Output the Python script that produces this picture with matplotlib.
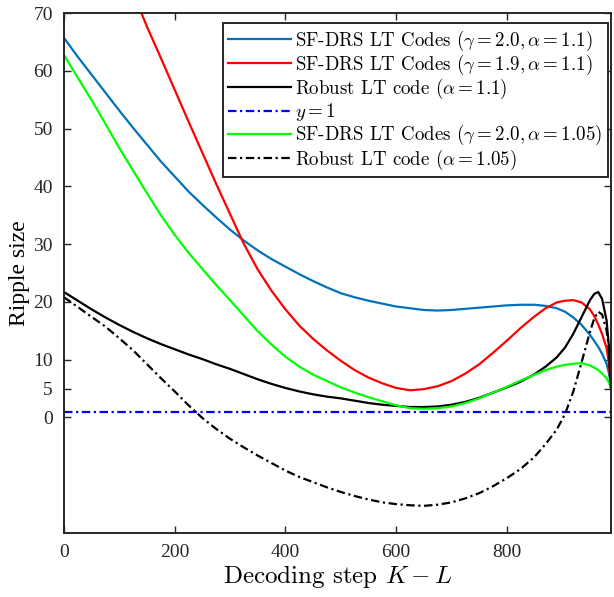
import numpy as np
import matplotlib
matplotlib.use("Agg")
import matplotlib.pyplot as plt

# Ripple size vs decoding step
steps = [0, 25, 50, 75, 100, 125, 150, 175, 200, 225, 250, 275, 300, 325, 350, 375,
         400, 425, 450, 475, 500, 525, 550, 575, 600, 625, 650, 675, 700, 725, 750,
         775, 800, 825, 850, 870, 890, 905, 920, 935, 950, 958, 965, 972, 980, 984, 988]

sf_g20_a11 = [65.7, 62.4, 59.3, 56.2, 53.1, 50.1, 47.2, 44.3, 41.7, 39.1, 36.8, 34.6, 32.5, 30.6,
              28.9, 27.4, 26.1, 24.8, 23.6, 22.5, 21.5, 20.8, 20.2, 19.7, 19.2, 18.9, 18.6, 18.5,
              18.6, 18.8, 19.0, 19.2, 19.4, 19.5, 19.5, 19.3, 18.9, 18.3, 17.3, 16.0, 14.3, 13.2,
              12.2, 11.0, 9.3, 7.8, 5.5]
sf_g19_a11 = [111.0, 102.5, 94.5, 87.0, 80.0, 73.5, 67.6, 62.2, 56.7, 51.2, 45.8, 40.4, 35.2, 30.0,
              25.6, 21.9, 18.7, 15.9, 13.6, 11.6, 9.8, 8.2, 6.9, 5.9, 5.1, 4.7, 4.9, 5.4,
              6.3, 7.6, 9.2, 11.2, 13.3, 15.5, 17.5, 18.9, 19.9, 20.2, 20.3, 19.9, 18.7, 17.5,
              16.1, 14.4, 12.0, 9.5, 5.0]
robust_a11 = [21.7, 20.2, 18.7, 17.3, 16.0, 14.8, 13.7, 12.7, 11.8, 10.9, 10.1, 9.2, 8.4, 7.5,
              6.6, 5.8, 5.1, 4.5, 4.0, 3.6, 3.3, 2.9, 2.5, 2.2, 2.0, 1.8, 1.8, 1.9,
              2.2, 2.7, 3.4, 4.3, 5.2, 6.2, 7.5, 8.8, 10.4, 12.1, 14.5, 17.4, 20.3, 21.4,
              21.7, 20.5, 16.8, 12.5, 5.0]
sf_g20_a105 = [62.7, 58.8, 54.9, 50.8, 46.6, 42.7, 38.8, 35.0, 31.6, 28.5, 25.7, 22.9, 20.3, 17.6,
               14.9, 12.6, 10.5, 8.8, 7.4, 6.3, 5.2, 4.3, 3.5, 2.8, 2.1, 1.6, 1.5, 1.6,
               1.9, 2.5, 3.3, 4.3, 5.3, 6.4, 7.4, 8.2, 8.8, 9.1, 9.3, 9.4, 9.0, 8.6,
               8.2, 7.6, 6.8, 6.1, 5.0]
robust_a105 = [20.8, 19.1, 17.4, 15.7, 13.7, 11.6, 9.2, 6.8, 4.5, 2.1, -0.1, -2.0, -3.7, -5.2,
               -6.6, -7.9, -9.2, -10.3, -11.2, -12.1, -12.9, -13.6, -14.2, -14.7, -15.0, -15.2, -15.3, -15.1,
               -14.7, -14.0, -13.1, -11.9, -10.5, -8.9, -6.8, -4.6, -2.1, 0.6, 4.5, 9.6, 14.8, 17.2,
               18.3, 17.8, 15.1, 12.0, 5.0]

plt.rcParams['font.family'] = 'Liberation Serif'
plt.rcParams['mathtext.fontset'] = 'cm'
plt.rcParams['axes.unicode_minus'] = False

fig = plt.figure(figsize=(6.14, 5.97), dpi=100)
ax = fig.add_axes([64/614, 1-533/597, 547/614, 520/597])

lw = 1.6
dashdot = (0, (3.8, 1.6, 1, 1.6))
ax.plot(steps, sf_g20_a11, color='#0072BD', lw=lw,
        label=r'SF-DRS LT Codes $(\gamma = 2.0, \alpha = 1.1)$')
ax.plot(steps, sf_g19_a11, color='#FF0000', lw=lw,
        label=r'SF-DRS LT Codes $(\gamma = 1.9, \alpha = 1.1)$')
ax.plot(steps, robust_a11, color='black', lw=lw,
        label=r'Robust LT code $(\alpha = 1.1)$')
ax.axhline(1, color='#0000FF', lw=lw, ls=dashdot, label=r'$y = 1$')
ax.plot(steps, sf_g20_a105, color='#00FF00', lw=lw,
        label=r'SF-DRS LT Codes $(\gamma = 2.0, \alpha = 1.05)$')
ax.plot(steps, robust_a105, color='black', lw=lw, ls=dashdot,
        label=r'Robust LT code $(\alpha = 1.05)$')

ax.set_xlim(0, 988)
ax.set_ylim(-20, 70)
ax.set_xticks([0, 200, 400, 600, 800])
ax.set_yticks([0, 5, 10, 20, 30, 40, 50, 60, 70])
ax.tick_params(direction='in', top=True, right=True, length=5, width=1,
               labelsize=14, pad=8, colors='#262626')
for s in ax.spines.values():
    s.set_linewidth(1.4)
    s.set_color('#262626')

ax.set_xlabel(r'Decoding step $K - L$', fontsize=18, family='cmr10', labelpad=1)
ax.set_ylabel('Ripple size', fontsize=17, labelpad=2)

leg = ax.legend(loc='upper right', bbox_to_anchor=(0.9945, 0.981), borderaxespad=0,
                prop={'family': 'cmr10', 'size': 13.6},
                handlelength=3.3, handletextpad=0.25, labelspacing=0.0,
                borderpad=0.3, fancybox=False, framealpha=1)
leg.get_frame().set_edgecolor('#262626')
leg.get_frame().set_linewidth(1.4)

fig.savefig('out.png', dpi=100)
